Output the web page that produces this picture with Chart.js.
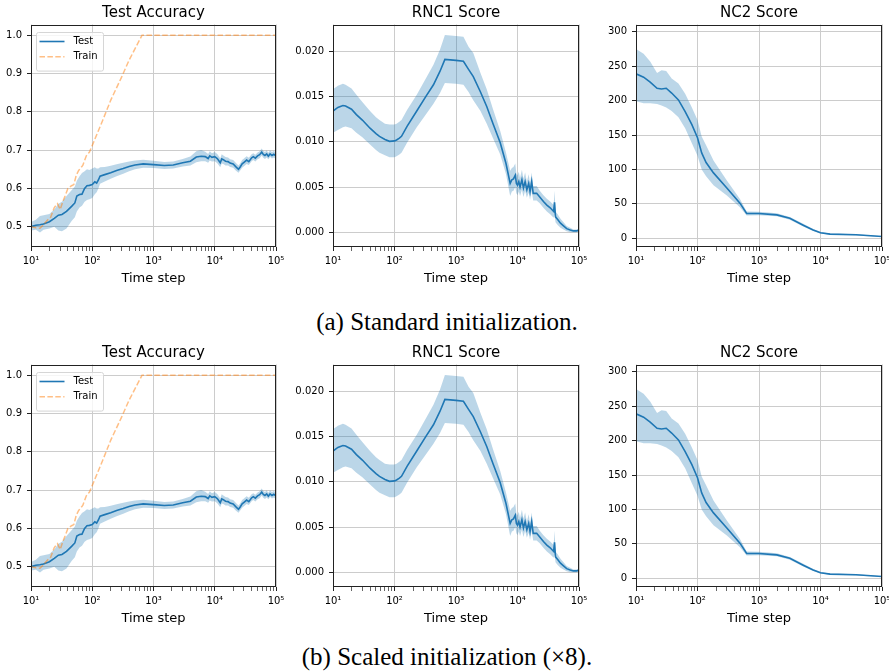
<!DOCTYPE html>
<html>
<head>
<meta charset="utf-8">
<script src="https://cdn.jsdelivr.net/npm/chart.js@4.4.0/dist/chart.umd.min.js"></script>
<style>
  body { margin: 0; background: #fff; width: 889px; height: 671px; position: relative; overflow: hidden; }
  canvas { position: absolute; }
  .caption { position: absolute; left: 0; width: 894px; text-align: center; font-family: "Liberation Serif", "Times New Roman", serif; font-size: 25px; line-height: 25px; color: #000; }
</style>
</head>
<body>
<canvas id="acc-a" width="290" height="290" style="left:0px;top:0px"></canvas>
<canvas id="rnc-a" width="303" height="290" style="left:290px;top:0px"></canvas>
<canvas id="nc2-a" width="298" height="290" style="left:598px;top:0px"></canvas>
<div class="caption" style="top:309px">(a) Standard initialization.</div>
<canvas id="acc-b" width="290" height="290" style="left:0px;top:340px"></canvas>
<canvas id="rnc-b" width="303" height="290" style="left:290px;top:340px"></canvas>
<canvas id="nc2-b" width="298" height="290" style="left:598px;top:340px"></canvas>
<div class="caption" style="top:644px">(b) Scaled initialization (×8).</div>

<script>
// --- data (both rows look the same) ---

const xTickLabels = { 10: '10¹', 100: '10²', 1000: '10³', 10000: '10⁴', 100000: '10⁵' };

// Test accuracy: mean and shaded band
const accSteps = [10, 12, 14, 16, 20, 24, 28, 32, 38, 46, 52, 56, 62, 68, 75, 82, 90, 100, 110, 118,
  126, 134, 160, 200, 250, 320, 400, 500, 680, 1000, 1500, 2100, 3000, 4000, 5000, 6000, 7000, 7800, 8300, 9000,
  10000, 11000, 12300, 13000, 13800, 15000, 16500, 17800, 20000, 22000, 24400, 26000, 28000, 30000, 33200, 36000,
  40000, 42600, 46000, 50000, 54000, 58500, 62000, 66000, 70500, 75000, 80000, 86000, 92000, 100000];
const accTest = [0.500, 0.504, 0.505, 0.507, 0.513, 0.522, 0.530, 0.532, 0.540, 0.553, 0.562, 0.580, 0.584, 0.585, 0.600,
  0.607, 0.608, 0.610, 0.617, 0.614, 0.622, 0.632, 0.636, 0.641, 0.647, 0.652, 0.657, 0.661, 0.664, 0.662,
  0.660, 0.661, 0.667, 0.671, 0.682, 0.684, 0.683, 0.678, 0.685, 0.681, 0.683, 0.678, 0.667, 0.677, 0.675,
  0.671, 0.670, 0.666, 0.664, 0.657, 0.650, 0.656, 0.664, 0.668, 0.674, 0.670, 0.680, 0.683, 0.679, 0.685,
  0.688, 0.695, 0.689, 0.686, 0.690, 0.684, 0.690, 0.686, 0.689, 0.685];
const accLow = [0.490, 0.492, 0.485, 0.492, 0.495, 0.500, 0.490, 0.488, 0.495, 0.515, 0.525, 0.540, 0.550, 0.555, 0.565,
  0.570, 0.572, 0.575, 0.585, 0.590, 0.600, 0.612, 0.618, 0.625, 0.632, 0.638, 0.645, 0.650, 0.654, 0.653,
  0.651, 0.652, 0.657, 0.660, 0.668, 0.671, 0.671, 0.667, 0.673, 0.670, 0.671, 0.666, 0.655, 0.665, 0.664,
  0.660, 0.660, 0.656, 0.654, 0.647, 0.641, 0.647, 0.654, 0.658, 0.664, 0.661, 0.671, 0.674, 0.670, 0.676,
  0.679, 0.686, 0.680, 0.677, 0.681, 0.676, 0.682, 0.678, 0.681, 0.677];
const accHigh = [0.512, 0.518, 0.528, 0.530, 0.533, 0.545, 0.560, 0.565, 0.580, 0.595, 0.605, 0.620, 0.632, 0.640, 0.645,
  0.650, 0.648, 0.652, 0.655, 0.652, 0.652, 0.655, 0.656, 0.659, 0.663, 0.667, 0.670, 0.673, 0.675, 0.672,
  0.669, 0.670, 0.677, 0.683, 0.697, 0.700, 0.696, 0.690, 0.697, 0.692, 0.695, 0.690, 0.679, 0.689, 0.686,
  0.682, 0.681, 0.676, 0.674, 0.667, 0.660, 0.665, 0.674, 0.678, 0.684, 0.680, 0.689, 0.692, 0.688, 0.694,
  0.697, 0.704, 0.698, 0.695, 0.699, 0.693, 0.699, 0.695, 0.698, 0.694];

// Train accuracy
const trainSteps = [10, 12, 14, 16, 18, 21, 24, 27, 30, 33, 36, 40, 46, 50, 55, 60, 70, 80, 90, 100,
  150, 200, 300, 400, 500, 650, 1000, 10000, 100000];
const trainAcc = [0.500, 0.497, 0.496, 0.505, 0.515, 0.525, 0.550, 0.560, 0.545, 0.565, 0.580, 0.600, 0.607, 0.610, 0.635,
  0.647, 0.660, 0.685, 0.695, 0.712, 0.780, 0.830, 0.890, 0.935, 0.965, 1.000, 1.000, 1.000, 1.000];

// RNC1 score
const rncSteps = [10, 12, 14.5, 16, 20, 24, 30, 40, 50, 57, 70, 83, 100, 108, 120, 130, 160, 230, 330, 430,
  550, 660, 1000, 1320, 1600, 1910, 2500, 3160, 4000, 5240, 6500, 7600, 8100, 8600, 9200, 9600, 10000, 10500, 11000, 11800,
  12500, 13300, 14200, 15200, 16000, 17000, 18000, 20500, 23000, 26400, 30000, 34000, 38700, 40000, 41500, 45000,
  50000, 56000, 63000, 72000, 81000, 92000, 97000, 100000];
const rncMean = [0.0134, 0.0138, 0.0140, 0.01395, 0.0136, 0.0130, 0.0124, 0.0115, 0.0109, 0.0106,
  0.01025, 0.01005, 0.0101, 0.0102, 0.0104, 0.0106, 0.0117, 0.0134, 0.0151, 0.0163,
  0.0178, 0.0191, 0.0190, 0.0189, 0.0180, 0.0172, 0.0155, 0.0139, 0.0120, 0.0099,
  0.0076, 0.0054, 0.0058, 0.0059, 0.0063, 0.0054, 0.0052, 0.0056, 0.0050, 0.0058,
  0.0049, 0.0056, 0.0047, 0.0054, 0.0045, 0.0056, 0.0043, 0.0043, 0.0039, 0.0034,
  0.0030, 0.0027, 0.0023, 0.0033, 0.0017, 0.0014, 0.0010, 0.0007, 0.0004, 0.00025,
  0.00015, 0.00015, 0.0002, 0.0004];
const rncLow = [0.0110, 0.0113, 0.0116, 0.0117, 0.0115, 0.0110, 0.0105, 0.0097, 0.0091, 0.0088,
  0.0085, 0.0083, 0.0083, 0.0084, 0.0086, 0.0088, 0.0099, 0.0116, 0.0131, 0.0142,
  0.0154, 0.0165, 0.0164, 0.0163, 0.0155, 0.0146, 0.0134, 0.0120, 0.0104, 0.0086,
  0.0064, 0.0040, 0.0045, 0.0046, 0.0050, 0.0043, 0.0041, 0.0045, 0.0040, 0.0047,
  0.0039, 0.0046, 0.0038, 0.0044, 0.0036, 0.0046, 0.0035, 0.0035, 0.0032, 0.0027,
  0.0023, 0.0020, 0.0016, 0.0020, 0.0011, 0.0008, 0.0005, 0.0003, 0.0001, 0.0000,
  0.0000, 0.0000, 0.0001, 0.0002];
const rncHigh = [0.0158, 0.0162, 0.0164, 0.0163, 0.0159, 0.0152, 0.0144, 0.0134, 0.0127, 0.0124,
  0.0120, 0.0119, 0.0119, 0.0120, 0.0122, 0.0124, 0.0135, 0.0152, 0.0171, 0.0185,
  0.0202, 0.0218, 0.0217, 0.0216, 0.0205, 0.0198, 0.0176, 0.0158, 0.0136, 0.0112,
  0.0088, 0.0068, 0.0071, 0.0072, 0.0076, 0.0065, 0.0063, 0.0067, 0.0060, 0.0069,
  0.0059, 0.0066, 0.0056, 0.0064, 0.0054, 0.0066, 0.0051, 0.0051, 0.0046, 0.0041,
  0.0037, 0.0034, 0.0030, 0.0046, 0.0023, 0.0020, 0.0015, 0.0011, 0.0007, 0.0005,
  0.0003, 0.0003, 0.0003, 0.0006];

// NC2 score
const nc2Steps = [10, 13.3, 17, 22, 26, 31, 38, 49, 63, 81, 100, 117, 138, 182, 300, 490, 630, 1000, 1950, 3170,
  5240, 7600, 10000, 14300, 38000, 100000];
const nc2Mean = [239, 234, 227, 218, 217, 218, 211, 201, 184, 165, 146, 124, 110, 95, 73, 51, 36, 36, 34, 29,
  19, 12, 8, 6, 5, 2.5];
const nc2Low = [199, 196, 196, 195, 193, 190, 185, 176, 160, 138, 120, 100, 90, 77, 62, 45, 33, 33.5, 32, 27,
  17, 10.5, 7, 5, 4, 2];
const nc2High = [275, 268, 257, 240, 244, 243, 232, 225, 210, 190, 172, 148, 135, 113, 84, 57, 39, 38.5, 36.5, 31,
  21, 13.5, 9, 7, 6, 3];

const accTicks = [0.5, 0.6, 0.7, 0.8, 0.9, 1.0];
const rncTicks = [0, 0.005, 0.010, 0.015, 0.020];
const nc2Ticks = [0, 50, 100, 150, 200, 250, 300];

// --- styling ---
const FONT = 'DejaVu Sans';
const blue = '#1f77b4';
const bandColor = 'rgba(31, 119, 180, 0.3)';
const orange = 'rgba(255, 127, 14, 0.5)';
const gridColor = '#cccccc';

Chart.defaults.font.family = FONT;
Chart.defaults.color = '#000';
Chart.defaults.animation = false;

// log axis tick positions 1..9 x 10^n
const xTickValues = [];
[10, 100, 1000, 10000].forEach(d => { for (let k = 1; k < 10; k++) xTickValues.push(k * d); });
xTickValues.push(100000);

function pts(xs, ys) { return xs.map((x, i) => ({ x: x, y: ys[i] })); }

function meanAndBand(label, xs, mean, lo, hi) {
  return [
    { label: label, data: pts(xs, mean), borderColor: blue, borderWidth: 1.6, pointRadius: 0, fill: false, order: 0 },
    { label: '', data: pts(xs, hi), borderColor: 'transparent', borderWidth: 0, backgroundColor: bandColor, pointRadius: 0, fill: '+1', order: 3 },
    { label: '', data: pts(xs, lo), borderColor: 'transparent', borderWidth: 0, pointRadius: 0, fill: false, order: 4 }
  ];
}

// axes frame (spines)
const frame = {
  id: 'frame',
  afterDatasetsDraw(chart) {
    const { ctx, chartArea: a } = chart;
    const l = Math.round(a.left) + 0.5, t = Math.round(a.top) + 0.5;
    const r = Math.round(a.right) - 0.5, b = Math.round(a.bottom) - 0.5;
    ctx.save();
    ctx.strokeStyle = '#222';
    ctx.lineWidth = 1;
    ctx.strokeRect(l, t, r - l, b - t);
    ctx.restore();
  }
};

// matplotlib-style boxed legend inside the axes
const boxLegend = {
  id: 'boxLegend',
  afterDraw(chart, args, opts) {
    if (!opts.display) return;
    const { ctx, chartArea } = chart;
    const items = chart.data.datasets.filter(d => d.label);
    ctx.save();
    ctx.font = '10px "' + FONT + '"';
    const textW = Math.max(...items.map(d => ctx.measureText(d.label).width));
    const x = Math.round(chartArea.left) + 5.5, y = Math.round(chartArea.top) + 7.5;
    const w = 37 + textW + 6, h = 8 + items.length * 15.3;
    ctx.fillStyle = 'rgba(255,255,255,0.8)';
    ctx.strokeStyle = '#d6d6d6';
    ctx.lineWidth = 1;
    ctx.beginPath();
    ctx.roundRect(x, y, w, h, 2);
    ctx.fill();
    ctx.stroke();
    items.forEach((d, i) => {
      const ly = y + 9 + i * 15.3;
      ctx.strokeStyle = d.borderColor;
      ctx.lineWidth = d.borderWidth;
      ctx.setLineDash(d.borderDash || []);
      ctx.beginPath();
      ctx.moveTo(x + 3, ly);
      ctx.lineTo(x + 28, ly);
      ctx.stroke();
      ctx.setLineDash([]);
      ctx.fillStyle = '#000';
      ctx.textBaseline = 'middle';
      ctx.fillText(d.label, x + 37, ly);
    });
    ctx.restore();
  }
};

function xScale() {
  return {
    type: 'logarithmic',
    min: 10,
    max: 100000,
    afterBuildTicks: s => { s.ticks = xTickValues.map(v => ({ value: v, major: v in xTickLabels })); },
    afterFit: s => { s.height = 41; },
    ticks: { autoSkip: false, maxRotation: 0, minRotation: 0, padding: 4, font: { size: 10 }, color: '#000',
      callback: v => xTickLabels[v] || '' },
    grid: {
      color: c => (c.tick && c.tick.value in xTickLabels) ? gridColor : 'rgba(0,0,0,0)',
      lineWidth: 1,
      tickColor: '#222',
      tickWidth: c => (c.tick && c.tick.value in xTickLabels) ? 1 : 0.7,
      tickLength: 4
    },
    border: { display: false },
    title: { display: true, text: 'Time step', font: { size: 13 }, color: '#000', padding: { top: 0, bottom: 2 } }
  };
}

function yScale(min, max, ticks, fmt, width) {
  return {
    min: min,
    max: max,
    afterBuildTicks: s => { s.ticks = ticks.map(v => ({ value: v })); },
    afterFit: s => { s.width = width; },
    ticks: { padding: 5, font: { size: 10 }, color: '#000', callback: fmt },
    grid: { color: gridColor, lineWidth: 1, tickColor: '#222', tickLength: 4 },
    border: { display: false }
  };
}

function makeChart(id, title, datasets, y, legend) {
  new Chart(document.getElementById(id), {
    type: 'line',
    data: { datasets: datasets },
    options: {
      responsive: false,
      animation: false,
      layout: { padding: { top: 4, right: 14, bottom: 2, left: 0 } },
      scales: { x: xScale(), y: y },
      plugins: {
        legend: { display: false },
        tooltip: { enabled: false },
        title: { display: true, text: title, fullSize: false, font: { size: 15, weight: 'normal' }, color: '#000',
          padding: { top: 0, bottom: 2.5 } },
        boxLegend: { display: legend }
      }
    },
    plugins: [frame, boxLegend]
  });
}

function accSets() {
  const sets = meanAndBand('Test', accSteps, accTest, accLow, accHigh);
  sets.push({ label: 'Train', data: pts(trainSteps, trainAcc), borderColor: orange, borderWidth: 1.5,
    borderDash: [5.5, 2.4], pointRadius: 0, fill: false, order: -1 });
  return sets;
}

['a', 'b'].forEach(row => {
  makeChart('acc-' + row, 'Test Accuracy', accSets(),
    yScale(0.447, 1.028, accTicks, v => v.toFixed(1), 31), true);
  makeChart('rnc-' + row, 'RNC1 Score', meanAndBand('RNC1', rncSteps, rncMean, rncLow, rncHigh),
    yScale(-0.00163, 0.02296, rncTicks, v => v.toFixed(3), 43), false);
  makeChart('nc2-' + row, 'NC2 Score', meanAndBand('NC2', nc2Steps, nc2Mean, nc2Low, nc2High),
    yScale(-12.7, 310.6, nc2Ticks, v => String(v), 38), false);
});
</script>
</body>
</html>
